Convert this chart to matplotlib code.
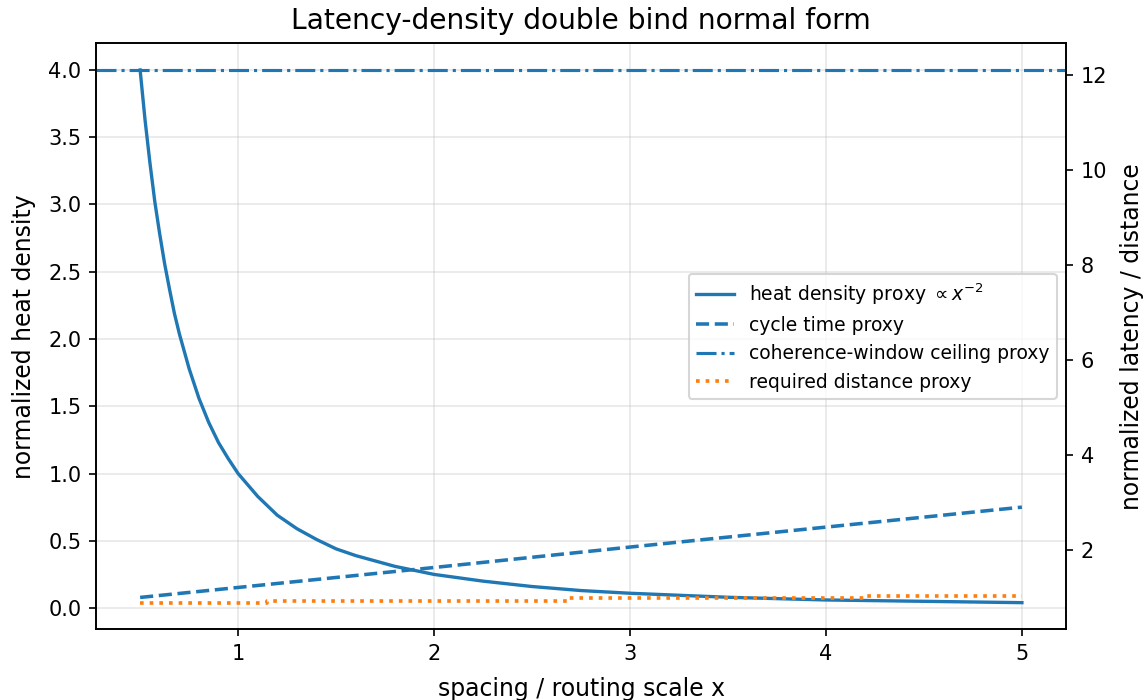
import numpy as np
import matplotlib
matplotlib.use("Agg")
import matplotlib.pyplot as plt

# values
x_heat = [0.5, 0.525, 0.55, 0.575, 0.6, 0.625, 0.65, 0.675, 0.7, 0.75, 0.8, 0.85,
          0.9, 0.95, 1.0, 1.1, 1.2, 1.3, 1.4, 1.5, 1.6, 1.7, 1.8, 1.9, 2.0,
          2.25, 2.5, 2.75, 3.0, 3.25, 3.5, 3.75, 4.0, 4.25, 4.5, 4.75, 5.0]
heat_density = [4.00, 3.63, 3.31, 3.02, 2.78, 2.56, 2.37, 2.19, 2.04, 1.78, 1.56, 1.38,
                1.23, 1.11, 1.00, 0.83, 0.69, 0.59, 0.51, 0.44, 0.39, 0.35, 0.31, 0.28, 0.25,
                0.20, 0.16, 0.13, 0.11, 0.095, 0.08, 0.07, 0.06, 0.055, 0.05, 0.045, 0.04]

x_cycle = [0.5, 2.0, 3.0, 4.0, 5.0]
cycle_time = [1.00, 1.63, 2.06, 2.48, 2.90]

coherence_ceiling = 12.1

x_dist = [0.5, 1.15, 2.68, 4.2, 5.0]
required_distance = [0.89, 0.935, 0.98, 1.025, 1.025]

fig = plt.figure(figsize=(1146 / 150, 700 / 150), dpi=150)
ax1 = fig.add_axes([0.0838, 0.101, 0.9302 - 0.0838, 0.9381 - 0.101])
ax2 = ax1.twinx()

l1, = ax1.plot(x_heat, heat_density, color="C0", lw=1.6,
               label=r"heat density proxy $\propto x^{-2}$")
l2, = ax2.plot(x_cycle, cycle_time, color="C0", ls="--", lw=1.7,
               label="cycle time proxy")
l3 = ax2.axhline(coherence_ceiling, color="C0", ls="-.", lw=1.5,
                 label="coherence-window ceiling proxy")
l4, = ax2.plot(x_dist, required_distance, color="C1", ls=":", lw=1.75,
               drawstyle="steps-post", label="required distance proxy")

ax1.grid(True, alpha=0.3)
ax1.set_xlabel("spacing / routing scale x", fontsize=11.3, labelpad=6.5)
ax1.set_ylabel("normalized heat density", fontsize=11.3, labelpad=5.7)
ax2.set_ylabel("normalized latency / distance", fontsize=11.3, labelpad=6.4)
ax1.set_title("Latency-density double bind normal form", fontsize=13.5, pad=7)

handles = [l1, l2, l3, l4]
ax2.legend(handles, [h.get_label() for h in handles], loc="center right", fontsize=9)

fig.savefig("out.png", dpi=150)
